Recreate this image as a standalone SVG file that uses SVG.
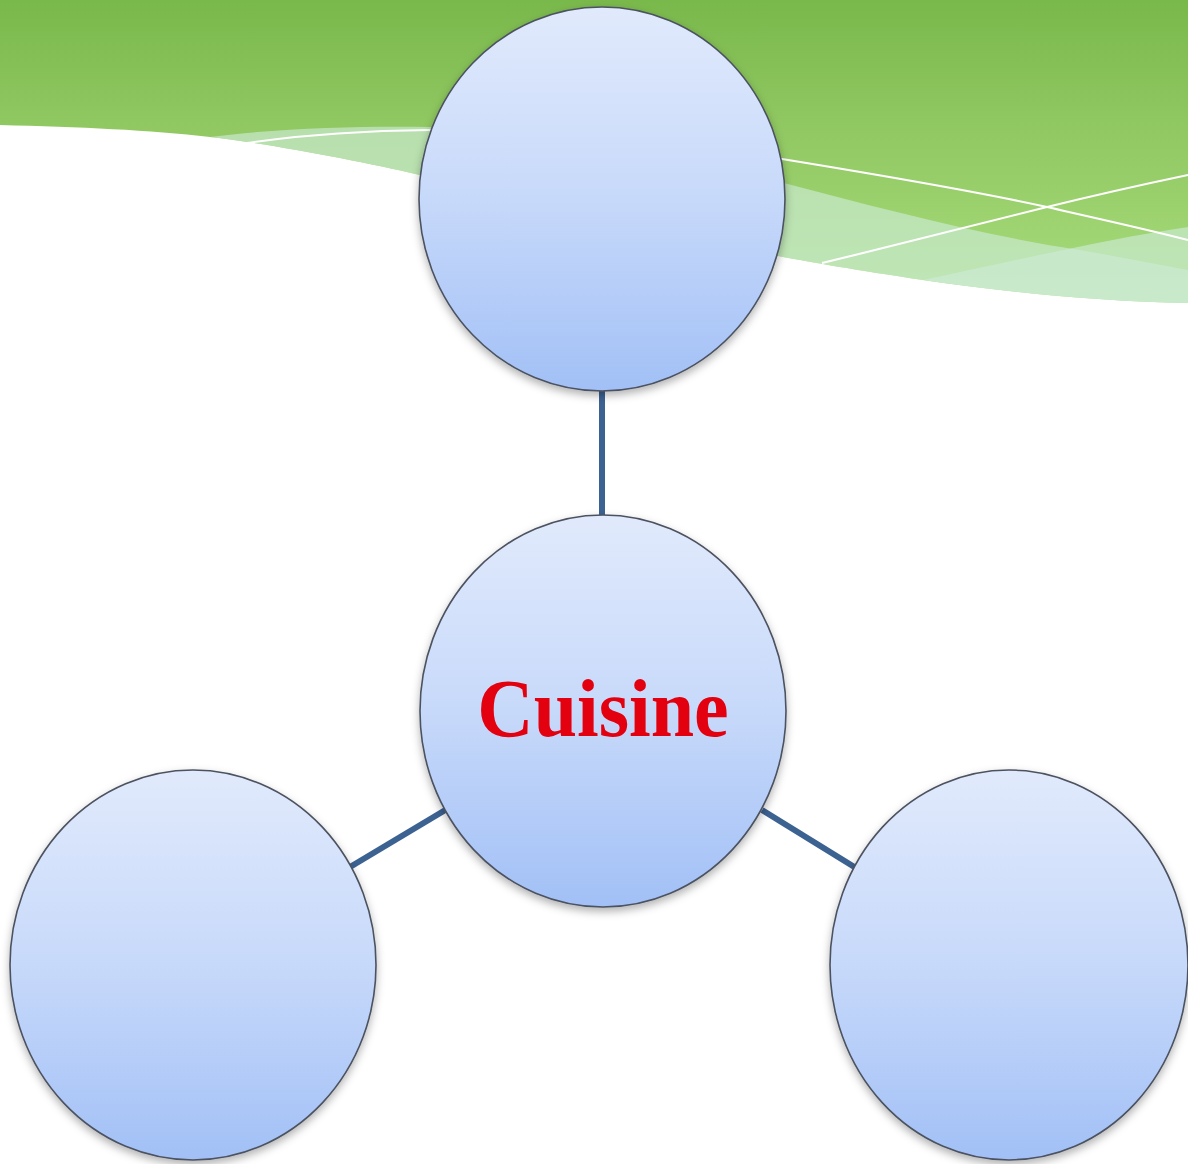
<svg xmlns="http://www.w3.org/2000/svg" width="1188" height="1164" viewBox="0 0 1188 1164">
  <defs>
    <linearGradient id="bannerGrad" x1="0" y1="0" x2="0" y2="1">
      <stop offset="0" stop-color="#79b84b"/>
      <stop offset="0.45" stop-color="#92c963"/>
      <stop offset="1" stop-color="#a8dc7c"/>
    </linearGradient>
    <linearGradient id="nodeGrad" x1="0" y1="0" x2="0" y2="1">
      <stop offset="0" stop-color="#e1eafc"/>
      <stop offset="0.5" stop-color="#c7d9fa"/>
      <stop offset="1" stop-color="#a2c0f6"/>
    </linearGradient>
    <filter id="shadow" x="-10%" y="-10%" width="120%" height="125%">
      <feDropShadow dx="0" dy="4" stdDeviation="4" flood-color="#000" flood-opacity="0.3"/>
    </filter>
    <style>
      .node { fill: url(#nodeGrad); stroke: #4c5260; stroke-width: 1.6; filter: url(#shadow); }
      .conn { stroke: #3c6292; stroke-width: 6; fill: none; }
      .band { fill: #cdebd5; opacity: 0.65; }
      .wline { stroke: #ffffff; stroke-width: 2; fill: none; }
      .label { font-family: "Liberation Serif", "Times New Roman", serif; font-weight: bold; font-size: 78px; fill: #e3000f; }
    </style>
  </defs>

  <rect width="1188" height="1164" fill="#ffffff"/>

  <g id="banner">
    <path d="M0,0 H1188 V303 C1100,302 990,290 923,280 S810,262 783,257 S480,189 420,175 S270,144 210,137 C150,130 80,127 0,125 Z" fill="url(#bannerGrad)" transform="translate(0,0)"/>
    <path d="M0,0 H1188 V303 C1100,302 990,290 923,280 S810,262 783,257 S480,189 420,175 S270,144 210,137 C150,130 80,127 0,125 Z" fill="none"/>
    <!-- translucent band W1 -->
    <path class="band" d="M210,137 C280,128 360,126 430,127 C560,130 680,155 780,182 C880,208 980,235 1080,250 C1120,257 1160,265 1188,270 V303 C1100,302 990,290 923,280 S810,262 783,257 S480,189 420,175 S270,144 210,137 Z"/>
    <!-- translucent band W2 -->
    <path class="band" d="M923,280 C1010,262 1100,240 1188,227 V303 C1100,302 990,290 923,280 Z"/>
    <!-- white lines -->
    <path class="wline" d="M247,143 Q330,131 430,130 C560,130 680,142 782,159 C880,175 970,190 1047,207 C1100,219 1150,230 1188,240"/>
    <path class="wline" d="M822,263 C900,244 980,224 1047,207 C1100,194 1150,183 1188,175"/>
  </g>

  <g id="connectors">
    <line class="conn" x1="602" y1="390" x2="602" y2="516"/>
    <line class="conn" x1="350" y1="867" x2="447" y2="809"/>
    <line class="conn" x1="762" y1="810" x2="856" y2="868"/>
  </g>

  <g id="node-top">
    <ellipse class="node" cx="602" cy="199" rx="183" ry="192"/>
  </g>
  <g id="node-center">
    <ellipse class="node" cx="603" cy="711" rx="183" ry="196"/>
    <text class="label" text-anchor="middle" transform="translate(603,736) scale(1,1.07)" x="0" y="0">Cuisine</text>
  </g>
  <g id="node-left">
    <ellipse class="node" cx="193" cy="965" rx="183" ry="195"/>
  </g>
  <g id="node-right">
    <ellipse class="node" cx="1009" cy="965" rx="179" ry="195"/>
  </g>
</svg>
